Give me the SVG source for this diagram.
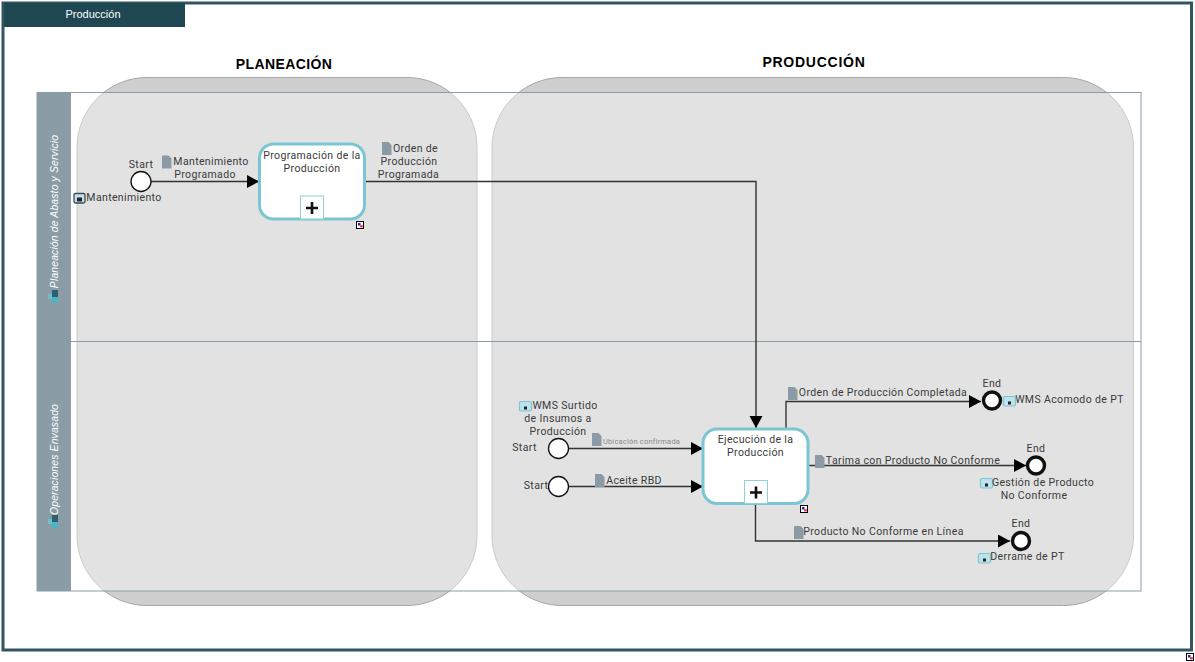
<svg xmlns="http://www.w3.org/2000/svg" width="1195" height="662" viewBox="0 0 1195 662">
<style>
text{font-family:Roboto,"Liberation Sans",sans-serif;font-size:10.5px;fill:#3a3a3a;letter-spacing:.37px;text-anchor:middle}
.h{font-family:"Liberation Sans",Arial,sans-serif;font-size:14px;font-weight:bold;fill:#000;letter-spacing:.4px}
.lane{fill:#fff;font-style:italic;font-size:10.4px;letter-spacing:.15px;font-family:"Liberation Sans",sans-serif}
.phase{fill:#cfcfcf;stroke:#a8a8a8;stroke-width:1}
.task{fill:#fff;stroke:#7cc6d4;stroke-width:3}
.plus{fill:#fff;stroke:#8fd0dc;stroke-width:1}
.pm{stroke:#111;stroke-width:2.6;fill:none}
.start{fill:#fff;stroke:#111;stroke-width:1.3}
.end{fill:#fff;stroke:#111;stroke-width:3.4}
.flow{fill:none;stroke:#333;stroke-width:1.4}
.doc{fill:#8b9ba6}
.ev{fill:#bfe3ea;stroke:#7cc6d4;stroke-width:1.2}
</style>
<defs>
<marker id="a" markerUnits="userSpaceOnUse" markerWidth="13" markerHeight="14" refX="12" refY="6.5" orient="auto"><path d="M0 0L12 6.5L0 13Z" fill="#000"/></marker>
<path id="d" class="doc" d="M0 0h6.500l3 3v10h-9.500Z"/>
<g id="ci"><rect x=".5" y=".5" width="12" height="9.500" rx="1.500" class="ev"/><rect x="5" y="5.500" width="3" height="3" fill="#223"/></g>
<g id="cd"><rect x=".5" y=".5" width="11" height="9.500" rx="1.500" fill="#cfdde2" stroke="#2d535e" stroke-width="1.300"/><rect x="3.500" y="4.500" width="5" height="4" fill="#223"/></g>
<g id="sm"><rect x=".5" y=".5" width="7" height="7" fill="#fff" stroke="#000" stroke-width="1"/><rect x="2" y="2" width="2.500" height="2.500" fill="#22c"/><rect x="4.200" y="4.200" width="2.500" height="2.200" fill="#e22"/></g>
<g id="li"><rect x="0" y="4" width="4" height="5" fill="#6cc0cc"/><rect x="4" y="0" width="6" height="7" fill="#2e5f70"/><rect x="4" y="7" width="6" height="6" fill="#4fb3c4"/></g>
</defs>
<rect width="1195" height="662" fill="#fff"/>
<g id="frame">
<rect x="3" y="3" width="1188.500" height="647" fill="#fff" stroke="#2f5661" stroke-width="3"/>
<rect x="4" y="3" width="181" height="24" fill="#1f4752"/>
<text x="93" y="18" style="fill:#fff;font-family:'Liberation Sans',sans-serif;font-size:11px;letter-spacing:0">Producción</text>
<use href="#sm" x="1186" y="653"/>
</g>
<g id="phases">
<rect class="phase" x="77" y="77.500" width="400" height="528" rx="70"/>
<rect class="phase" x="492" y="77.500" width="641.500" height="528" rx="70"/>
<text class="h" x="284" y="69">PLANEACIÓN</text>
<text class="h" x="814" y="67" style="letter-spacing:.75px">PRODUCCIÓN</text>
</g>
<g id="pool">
<rect x="37" y="92.500" width="1104" height="498.500" fill="#fff" fill-opacity=".4" stroke="#8a9ca6" stroke-width="1"/>
<rect x="37" y="92.500" width="34" height="498.500" fill="#8a9ca6"/>
<line x1="37" y1="341.500" x2="1141" y2="341.500" stroke="#8a9ca6"/>
<text class="lane" transform="translate(58 211.500) rotate(-90)">Planeación de Abasto y Servicio</text>
<text class="lane" transform="translate(58 459.500) rotate(-90)">Operaciones Envasado</text>
<use href="#li" x="48" y="290"/>
<use href="#li" x="48" y="515"/>
</g>
<g id="connectors">
<path class="flow" d="M151 181.500H259" marker-end="url(#a)"/>
<path class="flow" d="M365 181.500H756V428" marker-end="url(#a)"/>
<path class="flow" d="M568 448.500H703" marker-end="url(#a)"/>
<path class="flow" d="M568 486.500H703" marker-end="url(#a)"/>
<path class="flow" d="M786 429V401.500H981" marker-end="url(#a)"/>
<path class="flow" d="M808 465.500H1026" marker-end="url(#a)"/>
<path class="flow" d="M755.500 503V541H1010" marker-end="url(#a)"/>
</g>
<g id="n1">
<circle class="start" cx="141" cy="181.500" r="10"/>
<text x="141" y="168">Start</text>
</g>
<g id="n2">
<use href="#cd" x="73.500" y="193"/>
<text x="124" y="201">Mantenimiento</text>
</g>
<g id="n3">
<use href="#d" x="162" y="155.500"/>
<text x="211" y="165">Mantenimiento</text>
<text x="205" y="178">Programado</text>
</g>
<g id="n4">
<rect class="task" x="259.500" y="144" width="105" height="75" rx="14"/>
<rect class="plus" x="300.500" y="196" width="23" height="23"/>
<path class="pm" d="M312 202V214M306 208H318"/>
<text x="312" y="159">Programación de la</text>
<text x="312" y="172">Producción</text>
<use href="#sm" x="356" y="221"/>
</g>
<g id="n5">
<use href="#d" x="382" y="142"/>
<text x="415.500" y="152">Orden de</text>
<text x="409" y="165">Producción</text>
<text x="408.500" y="178">Programada</text>
</g>
<g id="n6">
<use href="#ci" x="519" y="401"/>
<text x="565" y="409">WMS Surtido</text>
<text x="558" y="422">de Insumos a</text>
<text x="558" y="435">Producción</text>
</g>
<g id="n7">
<circle class="start" cx="558.500" cy="448.500" r="10"/>
<text x="524.500" y="451">Start</text>
</g>
<g id="n8">
<circle class="start" cx="558.500" cy="486.500" r="10"/>
<text x="536" y="489">Start</text>
</g>
<g id="n9">
<use href="#d" x="592" y="433"/>
<text x="641.500" y="444" style="font-size:7.500px;fill:#888;letter-spacing:.2px">Ubicación confirmada</text>
</g>
<g id="n10">
<use href="#d" x="595" y="474"/>
<text x="634" y="484">Aceite RBD</text>
</g>
<g id="n11">
<rect class="task" x="703" y="429" width="105" height="74.500" rx="14"/>
<rect class="plus" x="744.500" y="480.500" width="23" height="23"/>
<path class="pm" d="M756 486.500V498.500M750 492.500H762"/>
<text x="755.500" y="443">Ejecución de la</text>
<text x="755.500" y="456">Producción</text>
<use href="#sm" x="800" y="505"/>
</g>
<g id="n12">
<use href="#d" x="788" y="387"/>
<text x="883" y="396">Orden de Producción Completada</text>
</g>
<g id="n13">
<use href="#d" x="815" y="455"/>
<text x="913" y="464">Tarima con Producto No Conforme</text>
</g>
<g id="n14">
<use href="#d" x="794" y="526"/>
<text x="883.500" y="535">Producto No Conforme en Línea</text>
</g>
<g id="n15">
<circle class="end" cx="992" cy="400.500" r="8.500"/>
<text x="992" y="387">End</text>
<use href="#ci" x="1003" y="396"/>
<text x="1069.500" y="403">WMS Acomodo de PT</text>
</g>
<g id="n16">
<circle class="end" cx="1036" cy="465.500" r="8.500"/>
<text x="1036" y="452">End</text>
<use href="#ci" x="980" y="478"/>
<text x="1043" y="486">Gestión de Producto</text>
<text x="1034" y="499">No Conforme</text>
</g>
<g id="n17">
<circle class="end" cx="1021" cy="541" r="8.500"/>
<text x="1021" y="527">End</text>
<use href="#ci" x="978" y="553"/>
<text x="1027.500" y="560">Derrame de PT</text>
</g>
</svg>
